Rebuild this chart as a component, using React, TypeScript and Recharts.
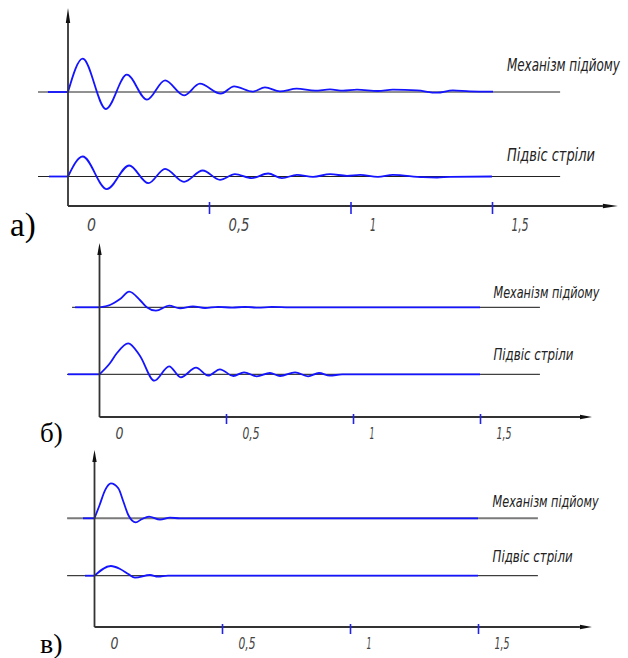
import React from "react";
import {
  LineChart,
  Line,
  XAxis,
  YAxis,
  ReferenceLine,
  ReferenceDot,
} from "recharts";

// x: time, s  /  y: displacement from each curve's own zero line
const TICKS = [0, 0.5, 1, 1.5];
const TICK_LABELS = ["0", "0,5", "1", "1,5"];
const LABEL_TOP = "Механізм підйому";
const LABEL_BOTTOM = "Підвіс стріли";
const PANEL_LETTERS = ["а)", "б)", "в)"];

// а) Механізм підйому
const A_TOP_T = [0, 0.052, 0.134, 0.208, 0.279, 0.343, 0.41, 0.466, 0.54, 0.587, 0.653, 0.696, 0.749, 0.808, 0.873, 0.926, 0.972, 1.021, 1.095, 1.148, 1.233, 1.304, 1.36, 1.42, 1.502];
const A_TOP_V = [0, 33.3, -17, 17.3, -7.7, 11.6, -3.4, 8.3, -1.7, 5.6, 0.4, 4.6, 0.6, 3.3, 1.3, 2.6, 1.3, 2.3, 1.0, 2.3, 1.6, -0.7, 1.6, 0.6, 0.3];
// а) Підвіс стріли
const A_BOT_T = [0, 0.052, 0.137, 0.216, 0.284, 0.343, 0.41, 0.476, 0.537, 0.59, 0.649, 0.707, 0.756, 0.809, 0.866, 0.926, 0.986, 1.032, 1.095, 1.148, 1.254, 1.304, 1.35, 1.498];
const A_BOT_V = [0, 20, -12.7, 11, -6.7, 7.7, -5.3, 6, -3.3, 2.4, -1.6, 3, -1.7, 1.7, -0.3, 2.3, 0.7, 1.7, -0.3, 1.7, -0.7, -1, -0.3, 0];

// б) Механізм підйому
const B_TOP_T = [0, 0.041, 0.081, 0.117, 0.159, 0.186, 0.222, 0.274, 0.317, 0.368, 0.415, 0.467, 0.522, 0.573, 0.624, 0.679, 0.75, 1.498];
const B_TOP_V = [0, 2.3, 8.3, 15.6, 7.3, 0, -3.4, 1.6, -1, 1, -0.7, 0.5, -0.4, 0.5, -0.4, 0.4, 0, 0];
// б) Підвіс стріли
const B_BOT_T = [0, 0.041, 0.068, 0.113, 0.159, 0.216, 0.274, 0.32, 0.38, 0.428, 0.474, 0.527, 0.569, 0.619, 0.671, 0.711, 0.77, 0.821, 0.864, 0.907, 0.955, 1.498];
const B_BOT_V = [0, 11, 21, 31, 18.6, -6.4, 8, -3, 6.6, -1.4, 5, -1.7, 2, -2, 1.3, -1.7, 2, -2, 1.3, -1.4, 0, 0];

// в) Механізм підйому
const C_TOP_T = [0, 0.02, 0.041, 0.064, 0.093, 0.113, 0.132, 0.161, 0.184, 0.213, 0.256, 0.295, 0.334, 1.498];
const C_TOP_V = [0, 13.3, 28, 35, 30, 16.6, 3.3, -4, -1, 1.6, -1.4, 0.6, 0, 0];
// в) Підвіс стріли
const C_BOT_T = [0, 0.064, 0.1, 0.132, 0.158, 0.217, 0.248, 0.287, 1.498];
const C_BOT_V = [0, 9.7, 6.7, 1.7, -2, 0.7, -1, 0, 0];

// where the flat blue lead-in starts and where the thin zero lines run (time, s)
const LEAD_START = [[-0.071, -0.067], [-0.096, -0.124], [-0.045, -0.037]];
const ZERO_LINE = [
  [[-0.106, 1.739], [-0.106, 1.739]],
  [[-0.108, 1.734], [-0.128, 1.734]],
  [[-0.107, 1.732], [-0.107, 1.732]],
];

const W = 628;
const BLUE = "#1414ff";
const AXIS = "#333";
const NARROW = "'Liberation Sans Narrow', 'DejaVu Sans Condensed', 'Liberation Sans', sans-serif";
const SERIF = "'Liberation Serif', 'Times New Roman', serif";
const SQUEEZE = 0.8; // horizontal squeeze of the curve captions

const PANELS = [
  { top: 0, axisY: 206, x0: 68, k: 283, yTip: 198, xTip: 1.943, head: 15, base: [114, 29.5],
    series: [[A_TOP_T, A_TOP_V], [A_BOT_T, A_BOT_V]], tickH: 6, dx: 19, dy: 23, tickFont: 17,
    tickLen: [9, 21, 6, 17],
    text: [{ t: 1.551, v: 135, len: 113 }, { t: 1.551, v: 45, len: 88 }], textFont: 17,
    letter: { t: -0.205, v: -30, size: 33 }, zeroColor: ["#222", "#222"], zeroWidth: [1, 1] },
  { top: 230, axisY: 417, x0: 99.5, k: 254, yTip: 174, xTip: 1.939, head: 12, base: [109.7, 42.7],
    series: [[B_TOP_T, B_TOP_V], [B_BOT_T, B_BOT_V]], tickH: 5, dx: 16, dy: 20, tickFont: 15,
    tickLen: [8, 17, 5, 15],
    text: [{ t: 1.551, v: 119, len: 106 }, { t: 1.551, v: 57, len: 80 }], textFont: 16,
    letter: { t: -0.234, v: -25, size: 27 }, zeroColor: ["#111", "#111"], zeroWidth: [1, 1] },
  { top: 440, axisY: 627, x0: 94.5, k: 256, yTip: 177, xTip: 1.943, head: 12, base: [108.7, 51.3],
    series: [[C_TOP_T, C_TOP_V], [C_BOT_T, C_BOT_V]], tickH: 5, dx: 16, dy: 20, tickFont: 15,
    tickLen: [8, 17, 5, 15],
    text: [{ t: 1.555, v: 120.5, len: 106 }, { t: 1.555, v: 65.3, len: 80 }], textFont: 16,
    letter: { t: -0.213, v: -26, size: 28 }, zeroColor: ["#7a7a7a", "#111"], zeroWidth: [2, 1] },
];

const toPoints = (ts: number[], vs: number[], base: number) =>
  ts.map((t, i) => ({ t, v: base + vs[i] }));

const arrowShape = (head: number) => (p: any) => {
  const { x1, y1, x2, y2 } = p;
  const L = Math.hypot(x2 - x1, y2 - y1) || 1;
  const ux = (x2 - x1) / L;
  const uy = (y2 - y1) / L;
  const bx = x2 - ux * head;
  const by = y2 - uy * head;
  const w = 2.2;
  return (
    <g>
      <line x1={x1} y1={y1} x2={bx} y2={by} stroke={AXIS} strokeWidth={1.8} />
      <polygon
        points={`${x2},${y2} ${bx - uy * w},${by + ux * w} ${bx + uy * w},${by - ux * w}`}
        fill="#111"
      />
    </g>
  );
};

function Panel({ cfg, idx }: { cfg: any; idx: number }) {
  const yMax = cfg.axisY - cfg.top;
  const domainX = [(0 - cfg.x0) / cfg.k, (W - cfg.x0) / cfg.k];

  const renderTick = (p: any) => {
    const { x, y, payload } = p;
    const i = TICKS.indexOf(payload.value);
    return (
      <g>
        {payload.value !== 0 && (
          <line x1={x} x2={x} y1={y - cfg.tickH} y2={y + cfg.tickH} stroke="#2222ee" strokeWidth={1.6} />
        )}
        <text
          x={x + cfg.dx}
          y={y + cfg.dy}
          fontFamily={NARROW}
          fontStyle="italic"
          fontSize={cfg.tickFont}
          fill="#444"
          textLength={cfg.tickLen[i]}
          lengthAdjust="spacingAndGlyphs"
        >
          {TICK_LABELS[i]}
        </text>
      </g>
    );
  };

  const textShape = (label: string, len: number) => (p: any) => (
    <text
      x={0}
      y={0}
      transform={`translate(${p.cx},${p.cy}) scale(${SQUEEZE},1)`}
      fontFamily={NARROW}
      fontStyle="italic"
      fontSize={cfg.textFont}
      fill="#222"
      textLength={len / SQUEEZE}
      lengthAdjust="spacingAndGlyphs"
    >
      {label}
    </text>
  );

  const letterShape = (p: any) => (
    <text x={p.cx} y={p.cy} fontFamily={SERIF} fontSize={cfg.letter.size} fill="#000">
      {PANEL_LETTERS[idx]}
    </text>
  );

  return (
    <div style={{ position: "absolute", left: 0, top: cfg.top }}>
      <LineChart width={W} height={yMax + 40} margin={{ top: 0, right: 0, bottom: 0, left: 0 }}>
        <XAxis
          type="number"
          dataKey="t"
          domain={domainX}
          allowDataOverflow
          ticks={TICKS}
          interval={0}
          axisLine={false}
          tickLine={false}
          tickSize={0}
          height={40}
          tick={renderTick}
        />
        <YAxis type="number" dataKey="v" domain={[0, yMax]} allowDataOverflow hide />

        {cfg.base.map((b: number, j: number) => (
          <Line
            key={`zero-${j}`}
            data={[
              { t: ZERO_LINE[idx][j][0], v: b },
              { t: ZERO_LINE[idx][j][1], v: b },
            ]}
            dataKey="v"
            type="linear"
            stroke={cfg.zeroColor[j]}
            strokeWidth={cfg.zeroWidth[j]}
            dot={false}
            activeDot={false}
            isAnimationActive={false}
          />
        ))}
        {cfg.base.map((b: number, j: number) => (
          <Line
            key={`lead-${j}`}
            data={[
              { t: LEAD_START[idx][j], v: b },
              { t: 0, v: b },
            ]}
            dataKey="v"
            type="linear"
            stroke={BLUE}
            strokeWidth={1.8}
            dot={false}
            activeDot={false}
            isAnimationActive={false}
          />
        ))}
        {cfg.series.map((s: number[][], j: number) => (
          <Line
            key={`curve-${j}`}
            data={toPoints(s[0], s[1], cfg.base[j])}
            dataKey="v"
            type="monotone"
            stroke={BLUE}
            strokeWidth={1.8}
            dot={false}
            activeDot={false}
            isAnimationActive={false}
          />
        ))}

        <ReferenceLine
          segment={[{ x: 0, y: 0 }, { x: 0, y: cfg.yTip }]}
          ifOverflow="visible"
          shape={arrowShape(cfg.head)}
        />
        <ReferenceLine
          segment={[{ x: 0, y: 0 }, { x: cfg.xTip, y: 0 }]}
          ifOverflow="visible"
          shape={arrowShape(cfg.head)}
        />

        <ReferenceDot x={cfg.text[0].t} y={cfg.text[0].v} ifOverflow="visible" shape={textShape(LABEL_TOP, cfg.text[0].len)} />
        <ReferenceDot x={cfg.text[1].t} y={cfg.text[1].v} ifOverflow="visible" shape={textShape(LABEL_BOTTOM, cfg.text[1].len)} />
        <ReferenceDot x={cfg.letter.t} y={cfg.letter.v} ifOverflow="visible" shape={letterShape} />
      </LineChart>
    </div>
  );
}

export default function App() {
  return (
    <div
      style={{
        position: "absolute",
        left: 0,
        top: 0,
        width: W,
        height: 658,
        overflow: "hidden",
        background: "#fff",
      }}
    >
      {PANELS.map((cfg, i) => (
        <Panel key={i} cfg={cfg} idx={i} />
      ))}
    </div>
  );
}
